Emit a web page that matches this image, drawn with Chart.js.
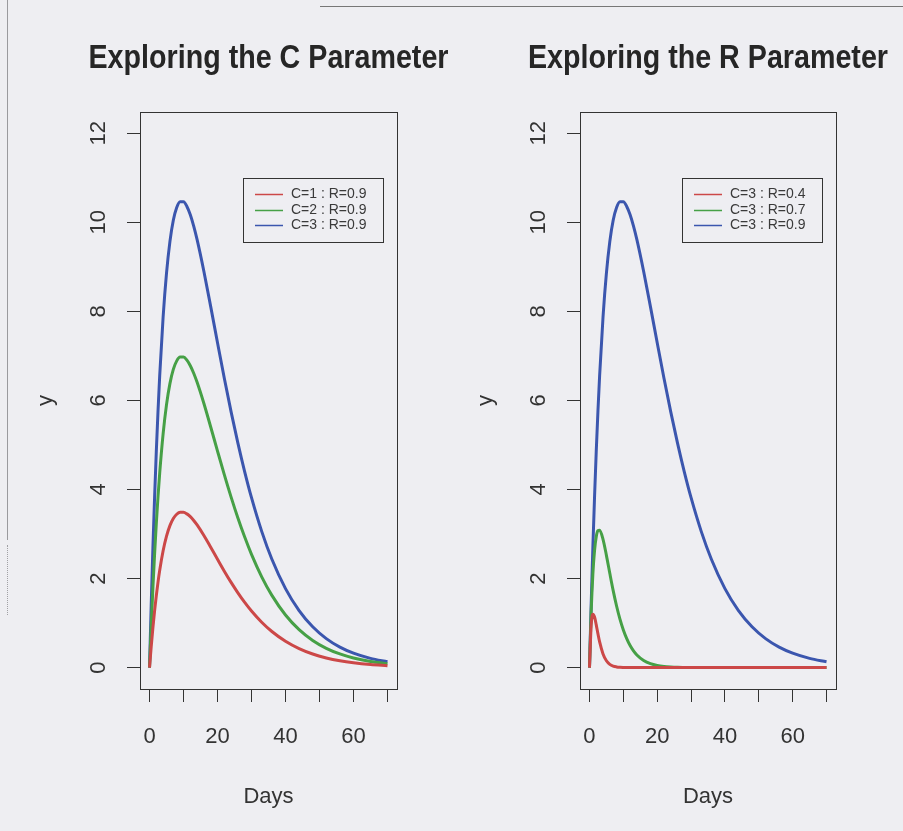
<!DOCTYPE html>
<html>
<head>
<meta charset="utf-8">
<script src="https://cdn.jsdelivr.net/npm/chart.js@4.4.1/dist/chart.umd.min.js"></script>
<style>
    html, body { margin: 0; padding: 0; background: #eeeef2; }
    body { width: 903px; height: 831px; position: relative; overflow: hidden; }
    canvas { position: absolute; top: 0; }
    #leftChart { left: 0; }
    #rightChart { left: 440px; }
    /* scanner edges */
    .edge-left { position: absolute; left: 7px; top: 0; width: 1px; height: 540px; background: #9a9a9e; }
    .edge-left-dots { position: absolute; left: 7px; top: 545px; width: 0; height: 70px; border-left: 1px dotted #a0a0a4; }
    .edge-top { position: absolute; left: 320px; top: 6px; width: 583px; height: 1px; background: #777; }
</style>
</head>
<body>
<div class="edge-left"></div>
<div class="edge-left-dots"></div>
<div class="edge-top"></div>
<canvas id="leftChart" width="451" height="831"></canvas>
<canvas id="rightChart" width="463" height="831"></canvas>
<script>
// Days sampled along the curves
const days = [0, 0.5, 1, 1.5, 2, 2.5, 3, 4, 5, 6, 7, 8, 9, 10, 11, 12, 13, 14,
    16, 18, 20, 22, 24, 26, 28, 30, 33, 36, 40, 44, 48, 52, 56, 60, 65, 70];

// values
const yC1R09 = [0, 0.474, 0.900, 1.281, 1.620, 1.921, 2.187, 2.624, 2.952, 3.189, 3.348, 3.444, 3.487, 3.487, 3.452, 3.389, 3.304, 3.203,
    2.965, 2.702, 2.432, 2.166, 1.914, 1.680, 1.465, 1.272, 1.020, 0.811, 0.591, 0.427, 0.305, 0.217, 0.153, 0.108, 0.069, 0.044];
const yC2R09 = [0, 0.949, 1.800, 2.561, 3.240, 3.842, 4.374, 5.249, 5.905, 6.377, 6.696, 6.887, 6.974, 6.974, 6.903, 6.778, 6.609, 6.406,
    5.930, 5.403, 4.863, 4.333, 3.829, 3.360, 2.931, 2.543, 2.039, 1.622, 1.182, 0.853, 0.611, 0.434, 0.307, 0.216, 0.138, 0.088];
const yC3R09 = [0, 1.423, 2.700, 3.842, 4.860, 5.763, 6.561, 7.873, 8.857, 9.566, 10.044, 10.331, 10.460, 10.460, 10.355, 10.167, 9.913, 9.608,
    8.894, 8.105, 7.295, 6.499, 5.743, 5.040, 4.396, 3.815, 3.059, 2.433, 1.774, 1.280, 0.916, 0.651, 0.460, 0.324, 0.207, 0.132];
const yC3R04 = [0, 0.949, 1.200, 1.138, 0.960, 0.759, 0.576, 0.307, 0.154, 0.074, 0.034, 0.016, 0.007, 0.003, 0.001, 0.001, 0, 0,
    0, 0, 0, 0, 0, 0, 0, 0, 0, 0, 0, 0, 0, 0, 0, 0, 0, 0];
const yC3R07 = [0, 1.255, 2.100, 2.635, 2.940, 3.075, 3.087, 2.881, 2.521, 2.118, 1.729, 1.384, 1.090, 0.847, 0.653, 0.498, 0.378, 0.285,
    0.160, 0.088, 0.048, 0.026, 0.014, 0.007, 0.004, 0.002, 0.001, 0, 0, 0, 0, 0, 0, 0, 0, 0];

const xTicks = [0, 10, 20, 30, 40, 50, 60, 70];
const xLabelled = [0, 20, 40, 60];
const yTicks = [0, 2, 4, 6, 8, 10, 12];

const red = '#cc4848';
const green = '#46a046';
const blue = '#3b56ae';

const FONT = '"Liberation Sans", Arial, Helvetica, sans-serif';

const toPoints = ys => days.map((d, i) => ({ x: d, y: ys[i] }));

// title spans 360px centred over the plot (text gets squeezed to fit, like the original)
const titleSpan = {
    id: 'titleSpan',
    afterLayout(chart) {
        const t = chart.titleBlock;
        if (!t) return;
        const a = chart.chartArea;
        const cx = (a.left + a.right) / 2;
        t.left = cx - 180;
        t.right = cx + 180;
        t.width = 360;
    }
};

// plot frame + R style legend box
const frameAndLegend = {
    id: 'frameAndLegend',
    afterDraw(chart) {
        const { ctx, chartArea: a } = chart;
        ctx.save();
        ctx.strokeStyle = '#333';
        ctx.lineWidth = 1;
        ctx.strokeRect(Math.round(a.left) + 0.5, Math.round(a.top) + 0.5, Math.round(a.width), Math.round(a.height));

        const w = 140, h = 64;
        const lx = Math.round(a.right - 14 - w);
        const ly = Math.round(a.top + 66);
        ctx.fillStyle = '#eeeef2';
        ctx.fillRect(lx, ly, w, h);
        ctx.strokeRect(lx + 0.5, ly + 0.5, w, h);

        ctx.font = '14px ' + FONT;
        ctx.textBaseline = 'middle';
        ctx.textAlign = 'left';
        chart.data.datasets.forEach((ds, i) => {
            const y = Math.round(ly + 16 + i * 15.5) + 0.5;
            ctx.strokeStyle = ds.borderColor;
            ctx.lineWidth = 1.5;
            ctx.beginPath();
            ctx.moveTo(lx + 12, y);
            ctx.lineTo(lx + 40, y);
            ctx.stroke();
            ctx.fillStyle = '#3a3a3a';
            ctx.fillText(ds.label, lx + 48, y);
        });
        ctx.restore();
    }
};

function makePanel(id, titleText, sets, padRight) {
    return new Chart(document.getElementById(id), {
        type: 'line',
        data: {
            datasets: sets.map(s => ({
                label: s.label,
                data: toPoints(s.values),
                borderColor: s.color,
                borderWidth: 3,
                pointRadius: 0,
                cubicInterpolationMode: 'monotone',
                fill: false
            }))
        },
        options: {
            responsive: false,
            animation: false,
            layout: { padding: { left: 0, right: padRight, top: 0, bottom: 0 } },
            plugins: {
                legend: { display: false },
                tooltip: { enabled: false },
                title: {
                    display: true,
                    text: titleText,
                    fullSize: false,
                    color: '#262626',
                    font: { family: FONT, size: 34, weight: 'bold' },
                    padding: { top: 38, bottom: 33 }
                }
            },
            scales: {
                x: {
                    type: 'linear',
                    min: -2.8,
                    max: 72.8,
                    afterBuildTicks: s => { s.ticks = xTicks.map(v => ({ value: v })); },
                    afterFit: s => { s.height = 142; },
                    ticks: {
                        autoSkip: false,
                        maxRotation: 0,
                        padding: 22,
                        color: '#333',
                        font: { family: FONT, size: 22 },
                        callback: v => xLabelled.includes(v) ? String(v) : ''
                    },
                    grid: { drawOnChartArea: false, drawTicks: true, tickLength: 13, color: '#333' },
                    border: { display: false },
                    title: {
                        display: true,
                        text: 'Days',
                        color: '#333',
                        font: { family: FONT, size: 22 },
                        padding: { top: 0, bottom: 21 }
                    }
                },
                y: {
                    type: 'linear',
                    min: -0.48,
                    max: 12.48,
                    afterBuildTicks: s => { s.ticks = yTicks.map(v => ({ value: v })); },
                    afterFit: s => { s.width = 140; },
                    ticks: {
                        autoSkip: false,
                        minRotation: 90,
                        maxRotation: 90,
                        crossAlign: 'center',
                        padding: 16,
                        color: '#333',
                        font: { family: FONT, size: 22 }
                    },
                    grid: { drawOnChartArea: false, drawTicks: true, tickLength: 13, color: '#333' },
                    border: { display: false },
                    title: {
                        display: true,
                        text: 'y',
                        color: '#333',
                        font: { family: FONT, size: 22 },
                        padding: { top: 33, bottom: 0 }
                    }
                }
            }
        },
        plugins: [titleSpan, frameAndLegend]
    });
}

makePanel('leftChart', 'Exploring the C Parameter', [
    { label: 'C=1 : R=0.9', values: yC1R09, color: red },
    { label: 'C=2 : R=0.9', values: yC2R09, color: green },
    { label: 'C=3 : R=0.9', values: yC3R09, color: blue }
], 54);

makePanel('rightChart', 'Exploring the R Parameter', [
    { label: 'C=3 : R=0.4', values: yC3R04, color: red },
    { label: 'C=3 : R=0.7', values: yC3R07, color: green },
    { label: 'C=3 : R=0.9', values: yC3R09, color: blue }
], 67);
</script>
</body>
</html>
